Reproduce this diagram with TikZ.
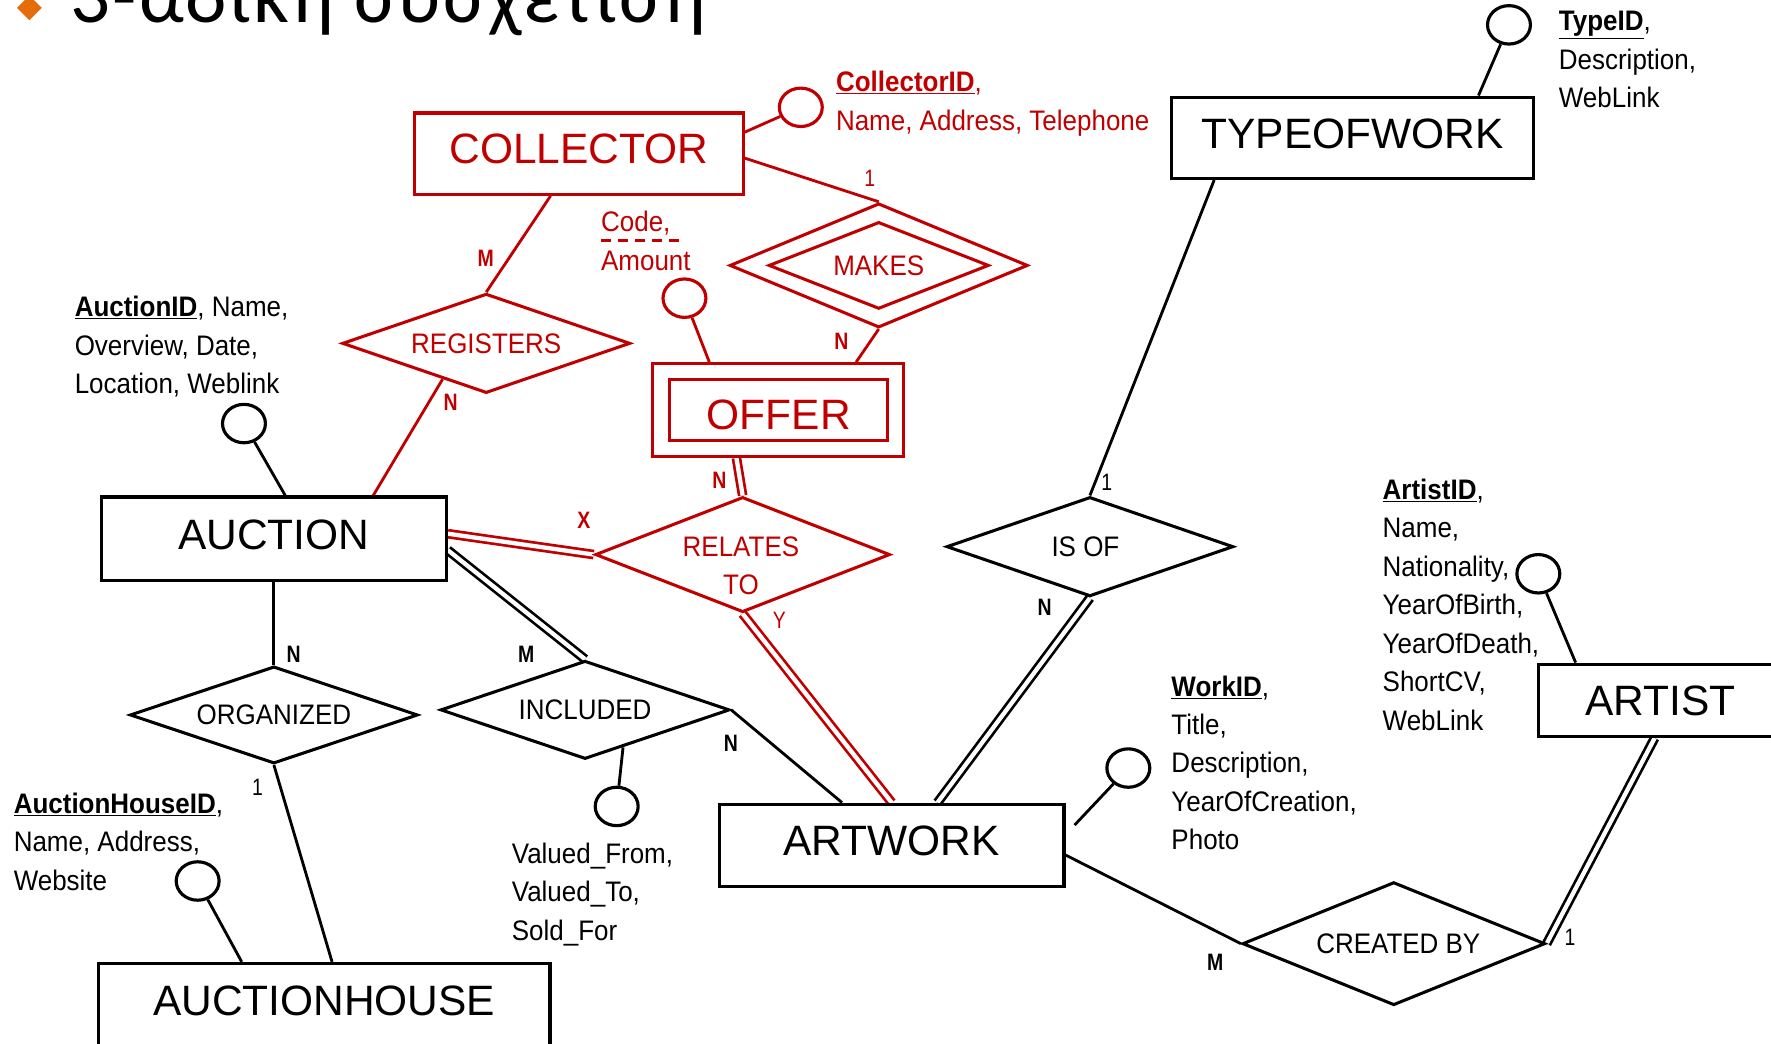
\documentclass[tikz,border=0pt]{standalone}
\usepackage{fontspec}
\setmainfont{Liberation Sans}
\newfontfamily\attrfont{Liberation Sans}[FakeStretch=0.92]
\newfontfamily\cardfont{Liberation Sans}[FakeStretch=0.82]
\newfontfamily\titlefont{Carlito}[LetterSpace=3]
\usetikzlibrary{shapes.geometric,calc,backgrounds}
\definecolor{dred}{HTML}{C00000}
\definecolor{borange}{HTML}{E46C0A}
\begin{document}
\begin{tikzpicture}[x=1pt,y=-1pt,
  ent/.style={draw, rectangle, line width=2.8pt, inner sep=0pt, text depth=8pt, font=\fontsize{37.6}{40}\selectfont},
  rel/.style={draw, diamond, line width=2.7pt, inner sep=0pt, font=\attrfont\fontsize{25}{34}\selectfont, align=center},
  attr/.style={draw, ellipse, line width=2.8pt, minimum width=38pt, minimum height=34pt, inner sep=0pt},
  txt/.style={anchor=north west, inner sep=0pt, align=left, font=\attrfont\fontsize{25}{34}\selectfont},
  card/.style={inner sep=0pt, font=\cardfont\bfseries\fontsize{21}{22}\selectfont},
  cardone/.style={inner sep=0pt, font=\cardfont\fontsize{21}{22}\selectfont},
  conn/.style={line width=2.5pt},
  dbl/.style={line width=2.4pt, double, double distance=3.8pt},
]
\useasboundingbox (0,0) rectangle (1568,924);
\clip (0,0) rectangle (1568,924);

% title
\fill[borange] (26,-4) -- (37,7) -- (26,18) -- (15,7) -- cycle;
\node[anchor=base west, inner sep=0pt, font=\titlefont\fontsize{70}{74}\selectfont] (title) at (62,20) {3-αδική συσχέτιση};

% entities
\node[ent, dred, minimum width=291pt, minimum height=72pt] (collector) at (512.5,136) {COLLECTOR};
\node[ent, minimum width=321pt, minimum height=72pt] (tow) at (1197.5,122) {TYPEOFWORK};
\node[ent, dred, minimum width=222pt, minimum height=82pt] (offer) at (689,363) {};
\node[ent, dred, minimum width=193pt, minimum height=54pt, text depth=0pt, text height=35pt] (offerin) at (689.5,363) {OFFER};
\node[ent, minimum width=305pt, minimum height=74pt] (auction) at (242.5,477) {AUCTION};
\node[ent, minimum width=305pt, minimum height=73pt] (artwork) at (789.5,748.5) {ARTWORK};
\node[ent, minimum width=215pt, minimum height=64pt, text depth=0pt] (artist) at (1470,620) {ARTIST};
\node[ent, minimum width=400pt, minimum height=100pt] (ah) at (287,903) {};
\node[inner sep=0pt, font=\fontsize{37.6}{40}\selectfont] (ahtext) at (287,886) {AUCTIONHOUSE};

% relationships
\node[rel, dred, minimum width=264pt, minimum height=110pt, aspect=2.4] (makes) at (778,235) {};
\node[rel, dred, minimum width=195pt, minimum height=77pt, aspect=2.53] (makesin) at (778,235) {MAKES};
\node[rel, dred, minimum width=255pt, minimum height=88pt, aspect=2.9] (registers) at (430.5,304) {REGISTERS};
\node[rel, dred, minimum width=261pt, minimum height=102pt, aspect=2.56] (relates) at (657.5,491) {};
\node[inner sep=0pt, align=center, dred, font=\attrfont\fontsize{25}{33}\selectfont] (relatestext) at (656,501) {RELATES\\TO};
\node[rel, minimum width=256pt, minimum height=87pt, aspect=2.9] (included) at (518,628.5) {INCLUDED};
\node[rel, minimum width=255pt, minimum height=86pt, aspect=2.9] (organized) at (242.5,633) {ORGANIZED};
\node[rel, minimum width=254pt, minimum height=88pt, aspect=2.9] (isof) at (965,484) {\hspace*{-8pt}IS OF};
\node[rel, minimum width=268pt, minimum height=109pt, aspect=2.46] (createdby) at (1234,835.5) {\hspace*{8pt}CREATED BY};

% attribute circles
\node[attr, dred] (acol) at (709,95) {};
\node[attr] (atow) at (1336,22) {};
\node[attr, dred] (aoffer) at (606,264) {};
\node[attr] (aauction) at (216,375) {};
\node[attr] (aincl) at (546,714) {};
\node[attr] (aah) at (175,780) {};
\node[attr] (aart) at (999,680) {};
\node[attr] (aartist) at (1362,508) {};

% attribute texts
\node[txt, dred] (ctxt) at (740,63) {\underline{\textbf{CollectorID}},\\Name, Address, Telephone};
\node[txt] (ttxt) at (1380,10) {\underline{\textbf{TypeID}},\\Description,\\WebLink};
\node[txt, dred] (codetxt) at (532,187) {Code,\\Amount};
\draw[dred, line width=2pt, dash pattern=on 9pt off 6pt] (codetxt.north west) ++(0,26) -- ++(74,0);
\node[txt] (auctxt) at (66,262) {\underline{\textbf{AuctionID}}, Name,\\Overview, Date,\\Location, Weblink};
\node[txt] (arttxt) at (1224,424) {\underline{\textbf{ArtistID}},\\Name,\\Nationality,\\YearOfBirth,\\YearOfDeath,\\ShortCV,\\WebLink};
\node[txt] (worktxt) at (1037,598) {\underline{\textbf{WorkID}},\\Title,\\Description,\\YearOfCreation,\\Photo};
\node[txt] (ahtxt) at (12,702) {\underline{\textbf{AuctionHouseID}},\\Name, Address,\\Website};
\node[txt] (valtxt) at (453,746) {Valued\_From,\\Valued\_To,\\Sold\_For};

% cardinalities
\node[cardone, dred] (k1) at (770,158) {1};
\node[card, dred] (k2) at (430,229) {M};
\node[card, dred] (k3) at (399,356) {N};
\node[card, dred] (k4) at (745,302) {N};
\node[card, dred] (k5) at (637,425) {N};
\node[card, dred] (k6) at (517,461) {X};
\node[cardone, dred] (k7) at (690,549) {Y};
\node[card] (k8) at (466,579) {M};
\node[card] (k9) at (260,579) {N};
\node[card] (k10) at (647,658) {N};
\node[cardone] (k11) at (228,697) {1};
\node[cardone] (k12) at (980,427) {1};
\node[card] (k13) at (925,538) {N};
\node[card] (k14) at (1076,852) {M};
\node[cardone] (k15) at (1390,830) {1};

\begin{pgfonlayer}{background}
% red connectors
\draw[conn, dred] ($(collector.east)+(0,-19)$) -- (acol);
\draw[conn, dred] ($(collector.east)+(0,4)$) -- (makes.north);
\draw[conn, dred] ($(collector.south)+(-25,0)$) -- (registers.north);
\draw[conn, dred] ($(registers.south)!0.3!(registers.west)$) -- ($(auction.north)+(88,0)$);
\draw[conn, dred] (makes.south) -- ($(offer.north)+(69,0)$);
\draw[conn, dred] (aoffer) -- ($(offer.north)+(-61,0)$);
\draw[dbl, dred] ($(offer.south)+(-37,0)$) -- (relates.north);
\draw[dbl, dred] ($(auction.east)+(0,-4.5)$) -- (relates.west);
\draw[dbl, dred] (relates.south) -- (artwork.north);
% black connectors
\draw[conn] (aauction) -- ($(auction.north)+(10,0)$);
\draw[conn] (auction.south) -- (organized.north);
\draw[conn] (organized.south) -- ($(ah.north)+(7,0)$);
\draw[conn] (aah) -- ($(ah.north)+(-73,0)$);
\draw[dbl] ($(auction.east)+(0,10)$) -- (included.north);
\draw[conn] (included.east) -- ($(artwork.north)+(-44,0)$);
\draw[conn] ($(included.south)!0.26!(included.east)$) -- (aincl);
\draw[conn] (atow) -- ($(tow.north)+(111.5,0)$);
\draw[conn] ($(tow.south)+(-122.5,0)$) -- (isof.north);
\draw[dbl] (isof.south) -- ($(artwork.north)+(40.5,0)$);
\draw[conn] (aart) -- ($(artwork.east)+(8,-18)$);
\draw[conn] ($(artwork.east)+(0,8.5)$) -- (createdby.west);
\draw[dbl] ($(artist.south)+(-5,0)$) -- (createdby.east);
\draw[conn] (aartist) -- ($(artist.north)+(-75,0)$);
\end{pgfonlayer}
\end{tikzpicture}
\end{document}
